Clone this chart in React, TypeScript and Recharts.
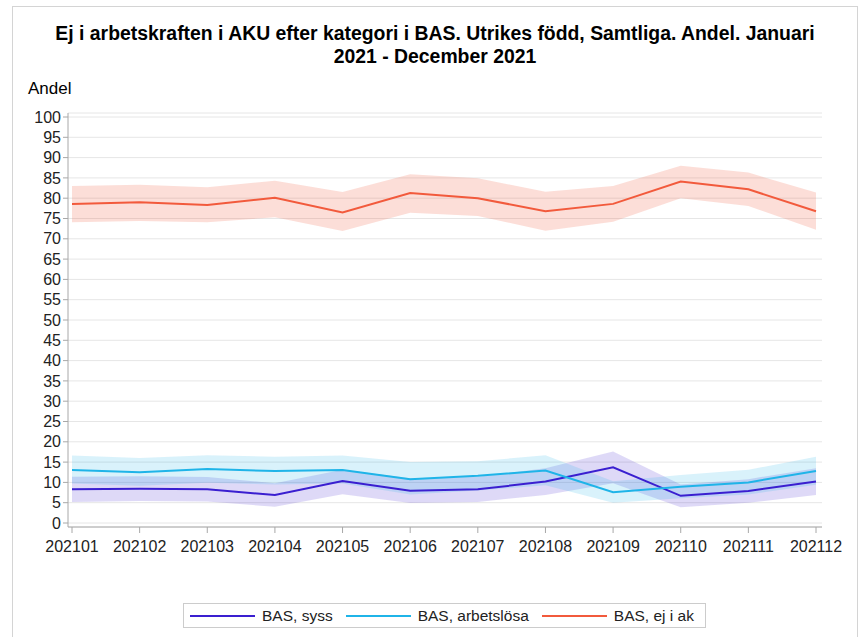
import {
  Area,
  CartesianGrid,
  ComposedChart,
  Line,
  XAxis,
  YAxis,
} from "recharts"

const months = [
  "202101", "202102", "202103", "202104", "202105", "202106",
  "202107", "202108", "202109", "202110", "202111", "202112",
]

const syss = [8.3, 8.45, 8.3, 6.9, 10.35, 7.95, 8.3, 10.2, 13.7, 6.7, 7.9, 10.2]
const syssLow = [5.2, 5.4, 5.3, 4.0, 7.1, 4.9, 5.2, 6.9, 9.8, 3.9, 5.0, 6.9]
const syssHigh = [11.4, 11.5, 11.3, 9.8, 13.1, 11.0, 11.4, 13.5, 17.6, 9.5, 10.8, 13.5]

const arbetslosa = [13.05, 12.5, 13.3, 12.8, 13.05, 10.8, 11.65, 12.9, 7.6, 8.9, 10.0, 12.8]
const arbetslosaLow = [9.7, 9.2, 9.9, 9.5, 9.7, 7.0, 8.0, 9.3, 5.0, 6.1, 7.0, 9.4]
const arbetslosaHigh = [16.6, 16.0, 16.7, 16.3, 16.6, 15.0, 15.2, 16.7, 10.3, 11.8, 13.1, 16.3]

const ejIAk = [78.6, 79.0, 78.3, 80.1, 76.5, 81.3, 80.0, 76.8, 78.6, 84.1, 82.2, 76.8]
const ejIAkLow = [74.1, 74.4, 74.1, 75.3, 71.9, 76.4, 75.6, 72.0, 74.2, 80.0, 78.1, 72.2]
const ejIAkHigh = [83.0, 83.3, 82.7, 84.3, 81.5, 85.9, 84.9, 81.6, 83.0, 88.0, 86.3, 81.4]

const yTicks = [0, 5, 10, 15, 20, 25, 30, 35, 40, 45, 50, 55, 60, 65, 70, 75, 80, 85, 90, 95, 100]

const series = [
  { key: "syss", name: "BAS, syss", color: "#3a1fd0" },
  { key: "arb", name: "BAS, arbetslösa", color: "#1fb4e8" },
  { key: "ejiak", name: "BAS, ej i ak", color: "#f25a3c" },
]

const data = months.map((m, i) => ({
  month: m,
  syss: syss[i],
  syssBand: [syssLow[i], syssHigh[i]],
  arb: arbetslosa[i],
  arbBand: [arbetslosaLow[i], arbetslosaHigh[i]],
  ejiak: ejIAk[i],
  ejiakBand: [ejIAkLow[i], ejIAkHigh[i]],
}))

const font = "'Liberation Sans', Arial, sans-serif"
const frame = "#a8a8a8"

export default function App() {
  return (
    <div
      style={{
        position: "absolute",
        left: 0,
        top: 0,
        width: 860,
        height: 637,
        background: "#fff",
        overflow: "hidden",
        fontFamily: font,
        color: "#000",
      }}
    >
      <div
        style={{
          position: "absolute",
          left: 12,
          top: 6,
          width: 844,
          height: 660,
          border: "1px solid #d4d4d4",
        }}
      />
      <div
        style={{
          position: "absolute",
          left: 5,
          top: 22,
          width: 860,
          textAlign: "center",
          fontWeight: "bold",
          fontSize: 19.4,
          lineHeight: "23px",
        }}
      >
        Ej i arbetskraften i AKU efter kategori i BAS. Utrikes född, Samtliga. Andel. Januari
        <br />
        2021 - December 2021
      </div>
      <div style={{ position: "absolute", left: 28, top: 79, fontSize: 17 }}>Andel</div>

      <div style={{ position: "absolute", left: 0, top: 0 }}>
        <ComposedChart
          width={860}
          height={637}
          data={data}
          margin={{ top: 113, right: 38, bottom: 80, left: 18 }}
        >
          <CartesianGrid horizontal vertical={false} stroke="#e6e6e6" />
          <XAxis
            dataKey="month"
            scale="point"
            padding={{ left: 4, right: 6 }}
            height={30}
            tickSize={6}
            tickMargin={8}
            stroke={frame}
            tick={{ fill: "#222", fontSize: 16, fontFamily: font }}
            interval={0}
          />
          <XAxis
            xAxisId="top"
            orientation="top"
            dataKey="month"
            scale="point"
            height={0}
            tick={false}
            tickLine={false}
            stroke={frame}
          />
          <YAxis
            domain={[0, 100]}
            ticks={yTicks}
            interval={0}
            padding={{ top: 4, bottom: 4 }}
            width={50}
            tickSize={5}
            tickMargin={2}
            stroke={frame}
            tick={{ fill: "#222", fontSize: 16, fontFamily: font }}
          />
          <YAxis
            yAxisId="right"
            orientation="right"
            domain={[0, 100]}
            width={0}
            tick={false}
            tickLine={false}
            stroke={frame}
          />
          <Area
            dataKey="syssBand"
            stroke="none"
            fill={series[0].color}
            fillOpacity={0.17}
            isAnimationActive={false}
          />
          <Area
            dataKey="arbBand"
            stroke="none"
            fill={series[1].color}
            fillOpacity={0.17}
            isAnimationActive={false}
          />
          <Area
            dataKey="ejiakBand"
            stroke="none"
            fill={series[2].color}
            fillOpacity={0.2}
            isAnimationActive={false}
          />
          {series.map((s) => (
            <Line
              key={s.key}
              dataKey={s.key}
              stroke={s.color}
              strokeWidth={2}
              dot={false}
              isAnimationActive={false}
            />
          ))}
        </ComposedChart>
      </div>

      <div
        style={{
          position: "absolute",
          left: 183,
          top: 603,
          width: 521,
          height: 23,
          border: "1px solid #cccccc",
          display: "flex",
          alignItems: "center",
          fontSize: 15.5,
          color: "#222",
        }}
      >
        {series.map((s, i) => (
          <div
            key={s.key}
            style={{
              display: "flex",
              alignItems: "center",
              marginLeft: i === 0 ? 6 : 13,
            }}
          >
            <span
              style={{
                display: "inline-block",
                width: 65,
                height: 2,
                background: s.color,
                marginRight: 7,
              }}
            />
            <span>{s.name}</span>
          </div>
        ))}
      </div>
    </div>
  )
}
